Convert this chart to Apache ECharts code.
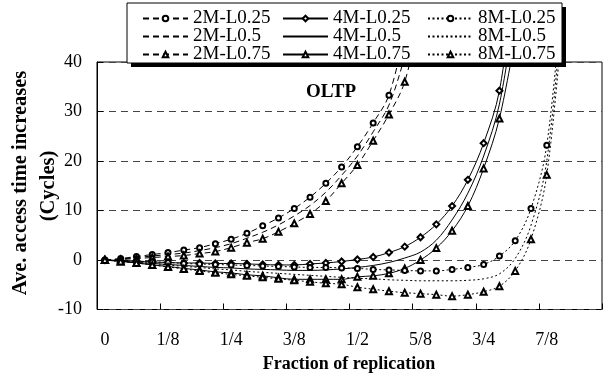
<!DOCTYPE html>
<html>
<head>
<meta charset="utf-8">
<script src="https://cdn.jsdelivr.net/npm/echarts@6/dist/echarts.min.js"></script>
<style>
  html, body { margin: 0; padding: 0; background: #fff; }
  #chart { width: 610px; height: 377px; }
</style>
</head>
<body>
<div id="chart"></div>
<script>
// Fraction of replication, in 32nds
const categories = ['0','1/32','2/32','3/32','4/32','5/32','6/32','7/32','8/32','9/32','10/32','11/32',
  '12/32','13/32','14/32','15/32','16/32','17/32','18/32','19/32','20/32','21/32','22/32','23/32',
  '24/32','25/32','26/32','27/32','28/32','29/32','30/32','31/32'];
const tickLabels = ['0', '1/8', '1/4', '3/8', '1/2', '5/8', '3/4', '7/8'];

// Average access time increase (cycles)
const s2M_L025 = [0, 0.3, 0.7, 1.1, 1.5, 2.0, 2.5, 3.3, 4.2, 5.4, 6.9, 8.5, 10.4, 12.7, 15.5, 18.8, 22.9, 27.7, 33.3, 46];
const s2M_L05  = [0, 0.2, 0.5, 0.8, 1.1, 1.4, 1.9, 2.5, 3.3, 4.4, 5.6, 7.1, 8.9, 11.0, 13.7, 17.1, 21.0, 25.9, 31.3, 41, 52];
const s2M_L075 = [0, 0.1, 0.3, 0.5, 0.7, 0.9, 1.3, 1.7, 2.5, 3.5, 4.3, 5.7, 7.4, 9.3, 11.9, 15.5, 19.2, 24.1, 29.4, 36.0, 50];
const s4M_L025 = [0, -0.1, -0.2, -0.4, -0.5, -0.6, -0.6, -0.7, -0.7, -0.8, -0.9, -1.0, -1.0, -0.8, -0.6, -0.3, 0.1, 0.6, 1.5, 2.7, 4.6, 7.2, 10.9, 16.2, 23.6, 34.2, 58];
const s4M_L05  = [0, -0.2, -0.5, -0.7, -0.9, -1.1, -1.3, -1.5, -1.6, -1.8, -1.9, -2.0, -2.1, -2.1, -2.0, -1.8, -1.5, -1.1, -0.5, 0.4, 1.6, 4.0, 8.1, 13.5, 21.0, 31.5, 51];
const s4M_L075 = [0, -0.3, -0.6, -1.0, -1.3, -1.7, -2.0, -2.4, -2.6, -3.0, -3.2, -3.6, -3.9, -3.9, -3.9, -3.9, -3.4, -3.2, -2.7, -1.7, 0, 2.4, 5.9, 10.9, 18.5, 28.6, 45];
const s8M_L025 = [0, -0.1, -0.3, -0.4, -0.5, -0.7, -0.8, -0.9, -1.0, -1.1, -1.2, -1.3, -1.4, -1.5, -1.5, -1.6, -1.7, -1.9, -2.0, -2.1, -2.2, -2.2, -1.9, -1.5, -0.9, 0.8, 3.9, 10.4, 23.2, 55];
const s8M_L05  = [0, -0.2, -0.5, -0.7, -1.0, -1.3, -1.5, -1.8, -2.0, -2.3, -2.5, -2.7, -2.9, -3.1, -3.3, -3.5, -3.7, -3.8, -4.0, -4.1, -4.2, -4.2, -4.2, -4.1, -3.8, -2.8, 0.3, 7.0, 20.0, 52];
const s8M_L075 = [0, -0.3, -0.6, -1.0, -1.4, -1.8, -2.2, -2.6, -2.9, -3.2, -3.5, -3.8, -4.1, -4.4, -4.7, -4.9, -5.5, -5.9, -6.3, -6.6, -6.8, -7.0, -7.3, -7.0, -6.4, -5.3, -2.2, 4.2, 17.2, 49];

const FONT = 'Liberation Serif, Times New Roman, serif';
const DASH_2M = [6, 4];
const DOT_8M = [2, 2.5];

function mkSeries(name, data, dash, symbol, size) {
  return {
    name: name,
    type: 'line',
    data: data,
    smooth: 0.35,
    clip: true,
    symbol: symbol,
    symbolSize: size,
    showSymbol: symbol !== 'none',
    lineStyle: { color: '#000', width: 1, type: dash },
    itemStyle: { color: '#000', borderColor: '#000', borderWidth: 1 },
    emphasis: { disabled: true },
    z: 3
  };
}

const series = [
  mkSeries('2M-L0.25', s2M_L025, DASH_2M, 'emptyCircle', 5),
  mkSeries('2M-L0.5',  s2M_L05,  DASH_2M, 'none', 0),
  mkSeries('2M-L0.75', s2M_L075, DASH_2M, 'emptyTriangle', 6),
  mkSeries('4M-L0.25', s4M_L025, 'solid', 'emptyDiamond', 6),
  mkSeries('4M-L0.5',  s4M_L05,  'solid', 'none', 0),
  mkSeries('4M-L0.75', s4M_L075, 'solid', 'emptyTriangle', 6),
  mkSeries('8M-L0.25', s8M_L025, DOT_8M, 'emptyCircle', 5),
  mkSeries('8M-L0.5',  s8M_L05,  DOT_8M, 'none', 0),
  mkSeries('8M-L0.75', s8M_L075, DOT_8M, 'emptyTriangle', 6)
];

// one legend entry per slot: 3 columns (cache size) x 3 rows (load)
const legendCols = [142, 282, 427];
const legendRows = [9, 27, 45];
const legends = [];
series.forEach((s, k) => {
  const col = Math.floor(k / 3), row = k % 3;
  const entry = { name: s.name };
  if (s.symbol === 'none') entry.itemStyle = { opacity: 0 };
  legends.push({
    data: [entry],
    orient: 'vertical',
    left: legendCols[col],
    top: legendRows[row],
    padding: 0,
    itemWidth: 45,
    itemHeight: 7,
    itemGap: 0,
    selectedMode: false,
    textStyle: { fontFamily: FONT, fontSize: 19, color: '#000' },
    z: 120
  });
});

const chart = echarts.init(document.getElementById('chart'), null, { renderer: 'canvas' });
chart.setOption({
  animation: false,
  backgroundColor: '#fff',
  grid: {
    left: 97, right: 8, top: 62, bottom: 67.5,
    show: true, borderColor: '#000', borderWidth: 1, backgroundColor: 'transparent'
  },
  xAxis: {
    type: 'category',
    position: 'bottom',
    data: categories,
    boundaryGap: true,
    // the plot frame supplies the bottom line
    axisLine: { show: false, onZero: false },
    axisTick: { show: true, inside: true, length: 6, interval: 3, lineStyle: { color: '#000', width: 1 } },
    axisLabel: {
      interval: 3, margin: 22, color: '#000', fontFamily: FONT, fontSize: 18,
      formatter: (v, i) => tickLabels[i / 4]
    },
    splitLine: { show: false }
  },
  yAxis: {
    type: 'value',
    min: -10, max: 40, interval: 10,
    axisLine: { show: true, onZero: false, lineStyle: { color: '#000', width: 1 } },
    axisTick: { show: true, inside: true, length: 6, lineStyle: { color: '#000' } },
    axisLabel: { margin: 15, color: '#000', fontFamily: FONT, fontSize: 18 },
    splitLine: { show: true, lineStyle: { color: '#444', width: 1, type: [7, 5] } }
  },
  legend: legends,
  graphic: [
    { type: 'rect', z: 100, shape: { x: 131, y: 7, width: 435, height: 60 }, style: { fill: '#000' } },
    { type: 'rect', z: 101, shape: { x: 127, y: 3, width: 435, height: 60 }, style: { fill: '#fff', stroke: '#000', lineWidth: 1 } },
    { type: 'text', z: 10, x: 331, y: 92, style: { text: 'OLTP', font: 'bold 19px ' + FONT, fill: '#000', align: 'center', verticalAlign: 'middle' } },
    { type: 'text', z: 10, x: 21, y: 183, rotation: Math.PI / 2, style: { text: 'Ave. access time increases', font: 'bold 20.5px ' + FONT, fill: '#000', align: 'center', verticalAlign: 'middle' } },
    { type: 'text', z: 10, x: 49, y: 186, rotation: Math.PI / 2, style: { text: '(Cycles)', font: 'bold 20.5px ' + FONT, fill: '#000', align: 'center', verticalAlign: 'middle' } },
    { type: 'text', z: 10, x: 349, y: 364, style: { text: 'Fraction of replication', font: 'bold 18px ' + FONT, fill: '#000', align: 'center', verticalAlign: 'middle' } }
  ],
  series: series
});
</script>
</body>
</html>
